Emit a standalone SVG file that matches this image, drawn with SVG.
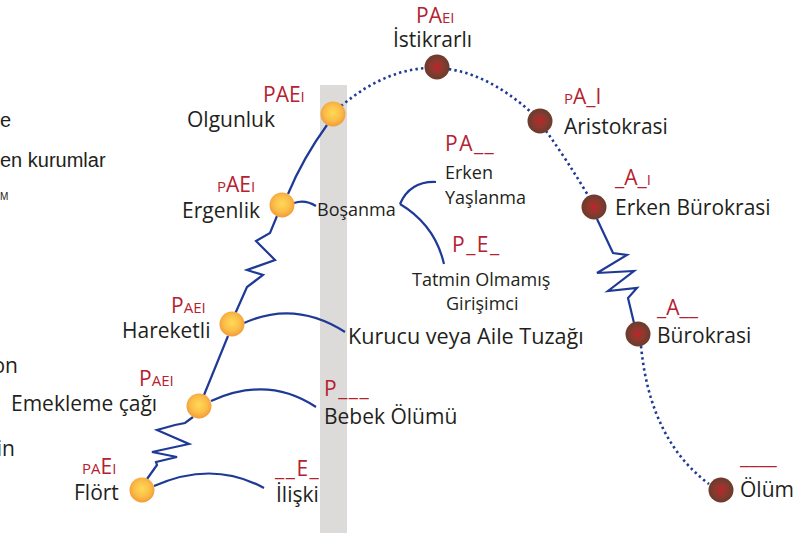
<svg xmlns="http://www.w3.org/2000/svg" width="811" height="533" viewBox="0 0 811 533">
<defs>
<radialGradient id="og" cx="50%" cy="45%" r="55%"><stop offset="0" stop-color="#ffd957"/><stop offset="0.6" stop-color="#fbbd48"/><stop offset="1" stop-color="#f29a38"/></radialGradient>
<radialGradient id="bg" cx="50%" cy="50%" r="50%"><stop offset="0" stop-color="#c1232a"/><stop offset="0.5" stop-color="#8b3a2f"/><stop offset="1" stop-color="#6a3b2c"/></radialGradient>
<style>
.t{font-family:"Open Sans","Noto Sans",sans-serif;fill:#231f20;font-size:21px}
.s{font-size:18px}
.r{font-family:"Open Sans","Noto Sans",sans-serif;fill:#b5212f;font-size:21px}
.u{letter-spacing:1.5px}
.sc{font-size:15px}
.f{font-family:"Liberation Sans",Arial,sans-serif;fill:#231f20;font-size:20px}
.ln{fill:none;stroke:#1e3a96;stroke-width:2.2;stroke-linejoin:miter}
.dt{fill:none;stroke:#1e3a96;stroke-width:2.6;stroke-dasharray:2.4 3.2}
.on{fill:url(#og)}
.bn{fill:url(#bg)}
</style>
</defs>
<rect x="320" y="85" width="27" height="448" fill="#dcdbda"/>
<g id="fragments">
<text class="f" x="11" y="127" text-anchor="end">e</text>
<text class="f" x="0" y="167">en kurumlar</text>
<text class="f" x="0" y="200" style="font-size:10px">M</text>
<text class="t" x="18" y="373" text-anchor="end">on</text>
<text class="t" x="15" y="456" text-anchor="end">in</text>
</g>
<g id="connectors">
<path class="dt" d="M341,106 Q437,26 533,114"/>
<path class="dt" d="M546,131 Q567,160 589,197"/>
<path class="dt" d="M641,346 Q650,440 709,484"/>
<path class="ln" d="M327,125 Q303,158 288,194"/>
<path class="ln" d="M277,216 L270,233 L256,241 L275,260 L247,270 L263,275 L247,287 L235,314"/>
<path class="ln" d="M228,336 L204,395"/>
<path class="ln" d="M193,417 L185,423 L175,425 L157,430 L189,444 L152,452 L177,457 L156,462 L157,465 L147,479"/>
<path class="ln" d="M597,219 L613,253 L627,255 L597,273 L634,271 L608,291 L637,288 L628,298 L634,323"/>
<path class="ln" d="M294,203 Q305,199 316,206"/>
<path class="ln" d="M400,204 Q410,181 436,182"/>
<path class="ln" d="M400,204 Q435,225 444,264"/>
<path class="ln" d="M244,323 Q295,300 345,332"/>
<path class="ln" d="M211,401 Q268,375 316,407"/>
<path class="ln" d="M154,486 Q213,460 264,488"/>
</g>
<g id="istikrarli">
<circle class="bn" cx="437" cy="67" r="12.5"/>
<text class="r" x="416" y="23">PA<tspan class="sc">EI</tspan></text>
<text class="t" x="393" y="47">İstikrarlı</text>
</g>
<g id="olgunluk">
<circle class="on" cx="333" cy="114" r="12.5"/>
<text class="r" x="263" y="102">PAE<tspan class="sc">I</tspan></text>
<text class="t" x="187" y="127">Olgunluk</text>
</g>
<g id="ergenlik">
<circle class="on" cx="282" cy="205" r="12.5"/>
<text class="r" x="217" y="192"><tspan class="sc">P</tspan>AE<tspan class="sc">I</tspan></text>
<text class="t" x="182" y="218">Ergenlik</text>
</g>
<g id="hareketli">
<circle class="on" cx="232" cy="324" r="12.5"/>
<text class="r" x="171" y="313">P<tspan class="sc">AEI</tspan></text>
<text class="t" x="122" y="338">Hareketli</text>
</g>
<g id="emekleme">
<circle class="on" cx="199" cy="406" r="12.5"/>
<text class="r" x="139" y="386">P<tspan class="sc">AEI</tspan></text>
<text class="t" x="11" y="411">Emekleme çağı</text>
</g>
<g id="flort">
<circle class="on" cx="142" cy="490" r="12.5"/>
<text class="r" x="82" y="474"><tspan class="sc">PA</tspan>E<tspan class="sc">I</tspan></text>
<text class="t" x="74" y="500">Flört</text>
</g>
<g id="iliski">
<text class="r u" x="275" y="476">__E_</text>
<text class="t" x="276" y="502">İlişki</text>
</g>
<g id="bebek">
<text class="r u" x="324" y="396">P___</text>
<text class="t" x="324" y="424">Bebek Ölümü</text>
</g>
<g id="kurucu">
<text class="t" x="348" y="344" style="font-size:21.6px">Kurucu veya Aile Tuzağı</text>
</g>
<g id="bosanma">
<text class="t s" x="317" y="216">Boşanma</text>
</g>
<g id="erken-yaslanma">
<text class="r u" x="445" y="151">PA__</text>
<text class="t s" x="445" y="179">Erken</text>
<text class="t s" x="445" y="204">Yaşlanma</text>
</g>
<g id="tatmin">
<text class="r u" x="452" y="252">P_E_</text>
<text class="t s" x="412" y="286">Tatmin Olmamış</text>
<text class="t s" x="446" y="310">Girişimci</text>
</g>
<g id="aristokrasi">
<circle class="bn" cx="540" cy="121" r="12.5"/>
<text class="r" x="564" y="104"><tspan class="sc">P</tspan>A_I</text>
<text class="t" x="564" y="134">Aristokrasi</text>
</g>
<g id="erken-burokrasi">
<circle class="bn" cx="594" cy="207" r="12.5"/>
<text class="r" x="615" y="185">_A_<tspan class="sc">I</tspan></text>
<text class="t" x="615" y="215">Erken Bürokrasi</text>
</g>
<g id="burokrasi">
<circle class="bn" cx="638" cy="334" r="12.5"/>
<text class="r" x="657" y="315">_A__</text>
<text class="t" x="657" y="343">Bürokrasi</text>
</g>
<g id="olum">
<circle class="bn" cx="721" cy="490" r="12.5"/>
<text class="r" x="740" y="464">____</text>
<text class="t" x="740" y="497">Ölüm</text>
</g>
</svg>
